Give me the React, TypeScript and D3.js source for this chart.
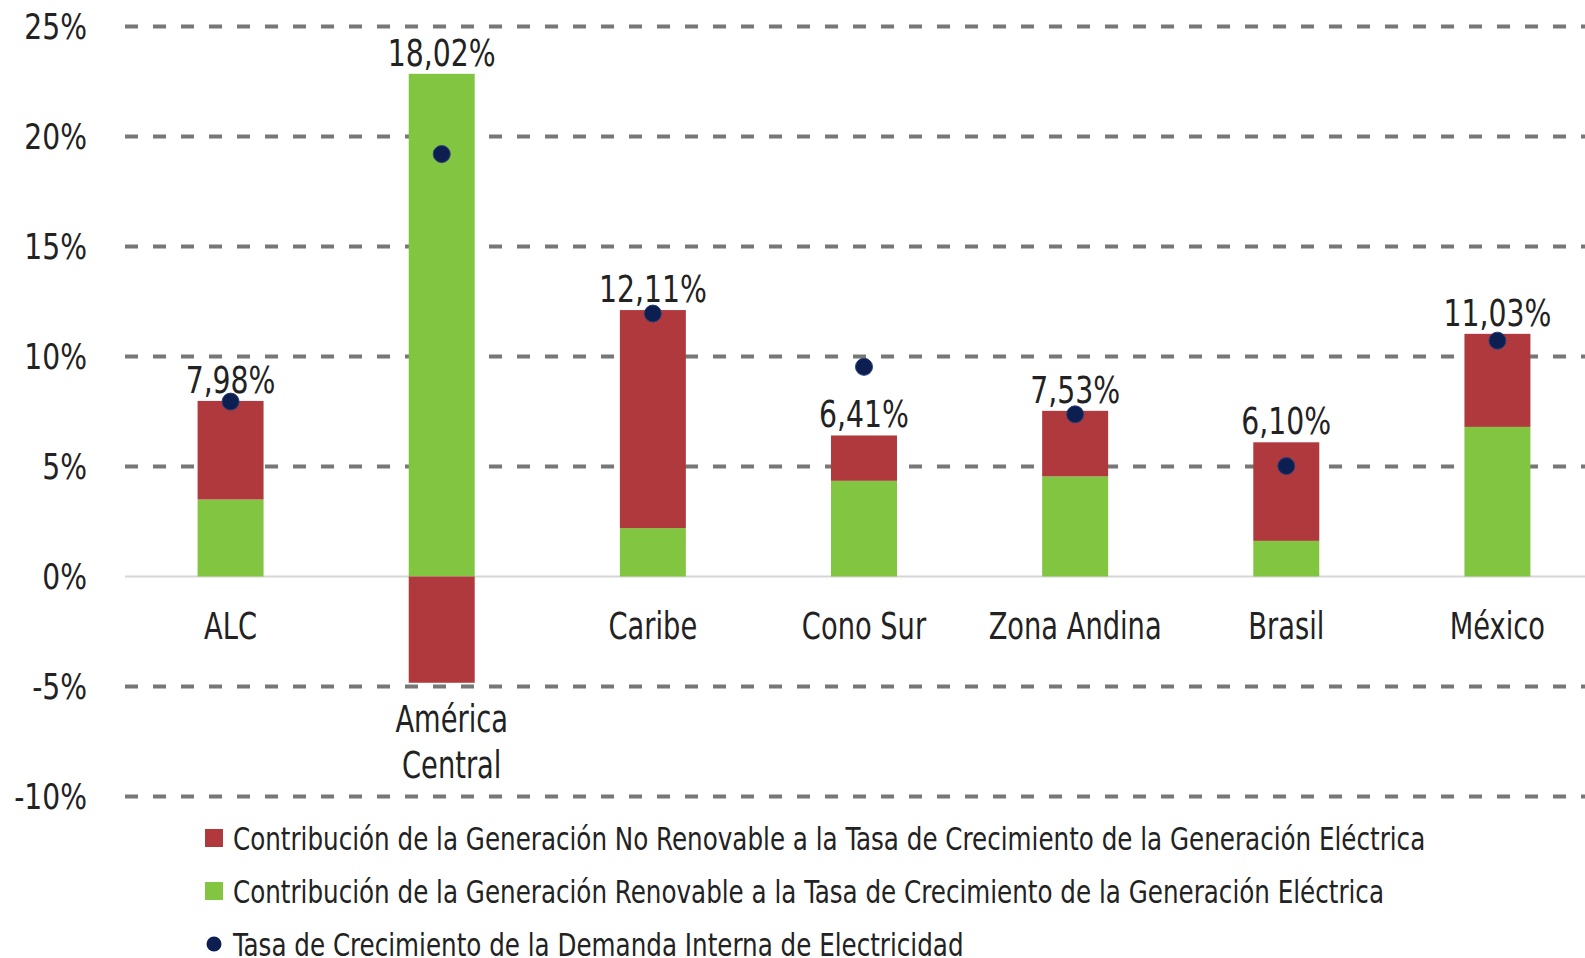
import React from 'react';
import * as d3 from 'd3';

// regions, left to right
const categories = ['ALC', 'América Central', 'Caribe', 'Cono Sur', 'Zona Andina', 'Brasil', 'México'];
// contribution of renewable generation (%)
const renovable = [3.5, 22.85, 2.2, 4.35, 4.55, 1.62, 6.8];
// contribution of non-renewable generation (%)
const noRenovable = [4.48, -4.83, 9.91, 2.06, 2.98, 4.48, 4.23];
// internal demand growth rate (%)
const demanda = [7.95, 19.2, 11.95, 9.53, 7.37, 5.02, 10.72];

const yTicks = [-10, -5, 0, 5, 10, 15, 20, 25];

const legendItems = [
  { label: 'Contribución de la Generación No Renovable a la Tasa de Crecimiento de la Generación Eléctrica', kind: 'rect', color: '#b0393d' },
  { label: 'Contribución de la Generación Renovable a la Tasa de Crecimiento de la Generación Eléctrica', kind: 'rect', color: '#82c540' },
  { label: 'Tasa de Crecimiento de la Demanda Interna de Electricidad', kind: 'dot', color: '#0c1f50' }
];

const FONT = "'DejaVu Sans Condensed', 'DejaVu Sans', sans-serif";
const RED = '#b0393d';
const GREEN = '#82c540';
const NAVY = '#0c1f50';
const INK = '#222';

const fmt = (v: number) => d3.format('.2f')(v).replace('.', ',') + '%';

// the original uses a narrow typeface, so squeeze text horizontally
const T: React.FC<{ x: number; y: number; size: number; anchor?: string; sx?: number; dy?: string; children: React.ReactNode }> = ({
  x, y, size, anchor = 'start', sx = 0.85, dy, children
}) => (
  <text transform={`translate(${x},${y}) scale(${sx},1)`} dy={dy} textAnchor={anchor} fontSize={size} fill={INK}>
    {children}
  </text>
);

export default function App() {
  const width = 1585;
  const height = 958;

  const x = d3.scalePoint<string>().domain(categories).range([125, 1603]).padding(0.5);
  const y = d3.scaleLinear().domain([-10, 25]).range([796.5, 26.5]);
  const barW = x.step() * 0.3125;

  return (
    <svg
      width={width}
      height={height}
      style={{ position: 'absolute', left: 0, top: 0, background: '#fff' }}
      fontFamily={FONT}
    >
      {/* grid */}
      {yTicks.map((t) => (
        <g key={t}>
          {t === 0 ? (
            <line x1={125} x2={width} y1={y(0)} y2={y(0)} stroke="#d6d6d6" strokeWidth={2} />
          ) : (
            <line x1={125} x2={width} y1={y(t)} y2={y(t)} stroke="#777" strokeWidth={4} strokeDasharray="13 15" />
          )}
          <T x={87} y={y(t)} dy="0.36em" anchor="end" size={36} sx={0.87}>
            {t}%
          </T>
        </g>
      ))}

      {/* bars */}
      {categories.map((c, i) => {
        const cx = x(c)!;
        const g = renovable[i];
        const r = noRenovable[i];
        const total = g + r;
        const top = Math.max(g, total, 0);
        const bottom = Math.min(0, r);
        return (
          <g key={c}>
            <rect x={cx - barW / 2} y={y(Math.max(g, 0))} width={barW} height={Math.abs(y(0) - y(g))} fill={GREEN} />
            {r >= 0 ? (
              <rect x={cx - barW / 2} y={y(g + r)} width={barW} height={y(g) - y(g + r)} fill={RED} />
            ) : (
              <rect x={cx - barW / 2} y={y(0)} width={barW} height={y(r) - y(0)} fill={RED} />
            )}
            <T x={cx} y={y(top) - 8} anchor="middle" size={37}>
              {fmt(total)}
            </T>
            {bottom < 0
              ? c.split(' ').map((w, k) => (
                  <T key={k} x={cx + 10} y={y(bottom) + 49 + k * 46} anchor="middle" size={37} sx={0.82}>
                    {w}
                  </T>
                ))
              : (
                <T x={cx} y={y(0) + 62} anchor="middle" size={37} sx={0.82}>
                  {c}
                </T>
              )}
          </g>
        );
      })}

      {/* demand dots */}
      {categories.map((c, i) => (
        <circle key={c} cx={x(c)!} cy={y(demanda[i])} r={8.5} fill={NAVY} stroke="#2a3f78" strokeWidth={1} />
      ))}

      {/* legend */}
      {legendItems.map((it, k) => {
        const cy = 838 + k * 53;
        return (
          <g key={k}>
            {it.kind === 'rect' ? (
              <rect x={205} y={cy - 9} width={18} height={18} fill={it.color} />
            ) : (
              <circle cx={214} cy={cy} r={7.5} fill={it.color} />
            )}
            <T x={233} y={cy} dy="0.36em" size={32} sx={0.855}>
              {it.label}
            </T>
          </g>
        );
      })}
    </svg>
  );
}
